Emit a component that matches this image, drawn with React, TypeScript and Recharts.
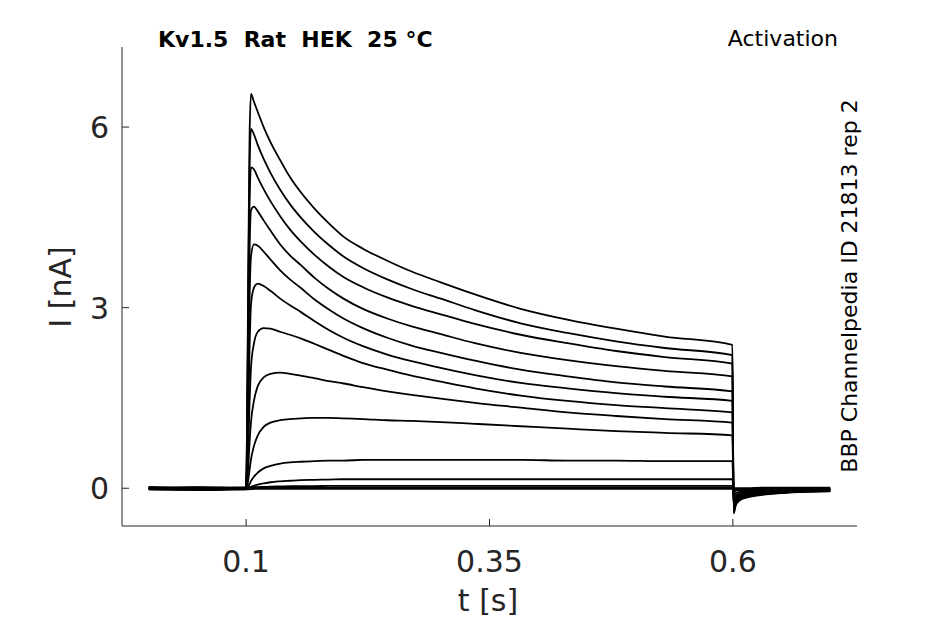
import React from 'react';
import { LineChart, Line, XAxis, YAxis } from 'recharts';

// time grid (s)
const TIMES = [
  0, 0.05, 0.0995, 0.1005, 0.102, 0.1035, 0.105, 0.108, 0.112, 0.118, 0.125, 0.135,
  0.145, 0.156, 0.17, 0.185, 0.2, 0.22, 0.245, 0.27, 0.3, 0.335, 0.382, 0.43, 0.48,
  0.53, 0.5995, 0.6008, 0.603, 0.607, 0.615, 0.63, 0.65, 0.675, 0.7,
];

// current sweeps (nA), one per voltage step
const sweep01 = [0.0, 0.01, 0.0, 0.3, 3.2, 5.8, 6.55, 6.42, 6.25, 6.0, 5.75, 5.45, 5.17, 4.92, 4.65, 4.4, 4.18, 3.98, 3.78, 3.6, 3.42, 3.22, 2.98, 2.8, 2.65, 2.52, 2.38, -0.42, -0.28, -0.2, -0.15, -0.11, -0.08, -0.06, -0.05];
const sweep02 = [-0.01, 0.0, -0.01, 0.27, 2.9, 5.3, 5.97, 5.88, 5.7, 5.47, 5.24, 4.96, 4.72, 4.5, 4.26, 4.04, 3.85, 3.66, 3.47, 3.31, 3.15, 2.96, 2.74, 2.58, 2.44, 2.33, 2.21, -0.4, -0.26, -0.19, -0.14, -0.1, -0.075, -0.055, -0.045];
const sweep03 = [0.01, 0.0, 0.01, 0.22, 2.5, 4.7, 5.33, 5.3, 5.16, 4.97, 4.77, 4.52, 4.3, 4.1, 3.88, 3.68, 3.51, 3.34, 3.17, 3.03, 2.89, 2.73, 2.55, 2.41, 2.28, 2.18, 2.07, -0.38, -0.25, -0.18, -0.13, -0.095, -0.07, -0.05, -0.04];
const sweep04 = [0.0, -0.02, 0.0, 0.18, 2.0, 3.9, 4.62, 4.68, 4.6, 4.45, 4.28, 4.05, 3.87, 3.71, 3.5, 3.31, 3.15, 2.98, 2.82, 2.69, 2.56, 2.41, 2.25, 2.13, 2.03, 1.95, 1.86, -0.36, -0.23, -0.16, -0.12, -0.09, -0.065, -0.05, -0.04];
const sweep05 = [-0.02, -0.01, -0.02, 0.14, 1.5, 3.1, 3.85, 4.05, 4.03, 3.93, 3.8, 3.62, 3.47, 3.33, 3.14, 2.97, 2.82, 2.66, 2.5, 2.37, 2.25, 2.12, 1.97, 1.86, 1.76, 1.69, 1.61, -0.33, -0.21, -0.15, -0.11, -0.08, -0.06, -0.045, -0.035];
const sweep06 = [0.02, 0.01, 0.01, 0.1, 1.05, 2.3, 3.05, 3.33, 3.4, 3.36, 3.28, 3.15, 3.04, 2.93, 2.78, 2.63, 2.5, 2.36, 2.22, 2.11, 2.0, 1.88, 1.75, 1.66, 1.58, 1.52, 1.45, -0.3, -0.19, -0.13, -0.1, -0.075, -0.055, -0.04, -0.03];
const sweep07 = [0.0, -0.01, -0.01, 0.06, 0.6, 1.4, 2.0, 2.4, 2.6, 2.66, 2.65, 2.6, 2.55, 2.49, 2.4, 2.3, 2.2, 2.08, 1.97, 1.87, 1.77, 1.66, 1.54, 1.45, 1.38, 1.33, 1.26, -0.27, -0.17, -0.12, -0.09, -0.065, -0.05, -0.035, -0.03];
const sweep08 = [-0.01, -0.02, 0.0, 0.03, 0.3, 0.75, 1.1, 1.45, 1.7, 1.84, 1.9, 1.92, 1.9, 1.87, 1.83, 1.78, 1.74, 1.68, 1.61, 1.55, 1.49, 1.42, 1.34, 1.26, 1.2, 1.15, 1.09, -0.24, -0.15, -0.1, -0.08, -0.06, -0.045, -0.03, -0.025];
const sweep09 = [0.01, 0.0, 0.0, 0.015, 0.12, 0.3, 0.48, 0.7, 0.88, 1.02, 1.09, 1.13, 1.15, 1.16, 1.17, 1.17, 1.16, 1.15, 1.13, 1.12, 1.1, 1.07, 1.03, 0.99, 0.95, 0.92, 0.88, -0.2, -0.12, -0.085, -0.065, -0.05, -0.04, -0.03, -0.02];
const sweep10 = [0.0, 0.01, 0.0, 0.005, 0.03, 0.07, 0.12, 0.19, 0.26, 0.33, 0.37, 0.41, 0.43, 0.44, 0.45, 0.46, 0.46, 0.47, 0.47, 0.47, 0.47, 0.47, 0.47, 0.46, 0.46, 0.45, 0.45, -0.12, -0.08, -0.06, -0.045, -0.035, -0.03, -0.02, -0.015];
const sweep11 = [-0.01, -0.02, -0.01, 0.0, 0.005, 0.015, 0.025, 0.04, 0.06, 0.08, 0.1, 0.115, 0.125, 0.135, 0.14, 0.145, 0.15, 0.15, 0.15, 0.15, 0.15, 0.15, 0.15, 0.15, 0.15, 0.15, 0.15, -0.06, -0.04, -0.03, -0.025, -0.02, -0.015, -0.01, -0.01];
const sweep12 = [0.02, 0.0, 0.01, 0.01, 0.01, 0.012, 0.015, 0.018, 0.02, 0.024, 0.027, 0.03, 0.033, 0.035, 0.037, 0.038, 0.039, 0.04, 0.04, 0.04, 0.04, 0.04, 0.04, 0.04, 0.04, 0.04, 0.04, -0.03, -0.02, -0.015, -0.01, -0.01, -0.005, 0.0, 0.0];
const sweep13 = [-0.02, -0.03, -0.02, -0.02, -0.02, -0.015, -0.015, -0.01, -0.01, -0.01, -0.01, -0.01, -0.01, -0.01, -0.01, -0.01, -0.01, -0.01, -0.01, -0.01, -0.01, -0.01, -0.01, -0.01, -0.01, -0.01, -0.01, -0.03, -0.025, -0.02, -0.02, -0.02, -0.015, -0.015, -0.015];
const sweep14 = [0.01, 0.02, 0.01, 0.01, 0.01, 0.01, 0.01, 0.01, 0.01, 0.01, 0.01, 0.01, 0.01, 0.01, 0.01, 0.01, 0.01, 0.01, 0.01, 0.01, 0.01, 0.01, 0.01, 0.01, 0.01, 0.01, 0.01, 0.0, 0.0, 0.0, 0.0, 0.01, 0.01, 0.01, 0.01];

const SWEEPS = [sweep01, sweep02, sweep03, sweep04, sweep05, sweep06, sweep07, sweep08, sweep09, sweep10, sweep11, sweep12, sweep13, sweep14];

const X_TICKS = [0.1, 0.35, 0.6];
const X_TICK_LABELS = ['0.1', '0.35', '0.6'];
const Y_TICKS = [0, 3, 6];
const Y_TICK_LABELS = ['0', '3', '6'];

const TITLE = 'Kv1.5\u00a0\u00a0Rat\u00a0\u00a0HEK\u00a0\u00a025 \u00b0C';
const PROTOCOL = 'Activation';
const SOURCE = 'BBP Channelpedia ID 21813 rep 2';
const X_LABEL = 't [s]';
const Y_LABEL = 'I [nA]';

const rows = TIMES.map((t, i) => {
  const r: Record<string, number> = { t };
  SWEEPS.forEach((s, k) => {
    r[`s${k}`] = s[i];
  });
  return r;
});

const FONT = 'DejaVu Sans';
const AXIS_COLOR = '#262626';

const XTick = (props: any) => {
  const { x, y, payload } = props;
  const idx = X_TICKS.indexOf(payload.value);
  return (
    <g>
      <line x1={x} y1={y} x2={x} y2={y - 7} stroke={AXIS_COLOR} strokeWidth={1} />
      <text x={x} y={y + 46} textAnchor="middle" fontFamily={FONT} fontSize={30} fill={AXIS_COLOR}>
        {idx >= 0 ? X_TICK_LABELS[idx] : payload.value}
      </text>
    </g>
  );
};

const YTick = (props: any) => {
  const { x, y, payload } = props;
  const idx = Y_TICKS.indexOf(payload.value);
  return (
    <g>
      <line x1={x} y1={y} x2={x + 7} y2={y} stroke={AXIS_COLOR} strokeWidth={1} />
      <text x={x - 13} y={y + 11} textAnchor="end" fontFamily={FONT} fontSize={30} fill={AXIS_COLOR}>
        {idx >= 0 ? Y_TICK_LABELS[idx] : payload.value}
      </text>
    </g>
  );
};

export default function App() {
  return (
    <div style={{ position: 'absolute', left: 0, top: 0, width: 945, height: 624, background: '#fff' }}>
      <LineChart
        width={945}
        height={624}
        data={rows}
        margin={{ top: 47, right: 88, bottom: 0, left: 0 }}
      >
        <XAxis
          dataKey="t"
          type="number"
          domain={[-0.0275, 0.7275]}
          ticks={X_TICKS}
          allowDataOverflow
          height={98}
          tickSize={0}
          tickMargin={0}
          tickLine={false}
          axisLine={{ stroke: AXIS_COLOR, strokeWidth: 1 }}
          tick={<XTick />}
          interval={0}
        />
        <YAxis
          type="number"
          domain={[-0.627, 7.33]}
          ticks={Y_TICKS}
          allowDataOverflow
          width={122}
          tickSize={0}
          tickMargin={0}
          tickLine={false}
          axisLine={{ stroke: AXIS_COLOR, strokeWidth: 1 }}
          tick={<YTick />}
          interval={0}
        />
        {SWEEPS.map((_, k) => (
          <Line
            key={k}
            dataKey={`s${k}`}
            type="monotone"
            stroke="#000"
            strokeWidth={1.8}
            dot={false}
            activeDot={false}
            isAnimationActive={false}
          />
        ))}
      </LineChart>
      <svg
        width={945}
        height={624}
        style={{ position: 'absolute', left: 0, top: 0, pointerEvents: 'none' }}
      >
        <text x={158} y={47} fontFamily={FONT} fontSize={22} fontWeight="bold" fill="#000">
          {TITLE}
        </text>
        <text x={838} y={46} textAnchor="end" fontFamily={FONT} fontSize={22} fill="#000">
          {PROTOCOL}
        </text>
        <text
          x={0}
          y={0}
          transform="translate(857, 286) rotate(-90)"
          textAnchor="middle"
          fontFamily={FONT}
          fontSize={22}
          fill="#000"
        >
          {SOURCE}
        </text>
        <text x={488} y={611} textAnchor="middle" fontFamily={FONT} fontSize={30} fill={AXIS_COLOR}>
          {X_LABEL}
        </text>
        <text
          x={0}
          y={0}
          transform="translate(71, 287) rotate(-90)"
          textAnchor="middle"
          fontFamily={FONT}
          fontSize={30}
          fill={AXIS_COLOR}
        >
          {Y_LABEL}
        </text>
      </svg>
    </div>
  );
}
